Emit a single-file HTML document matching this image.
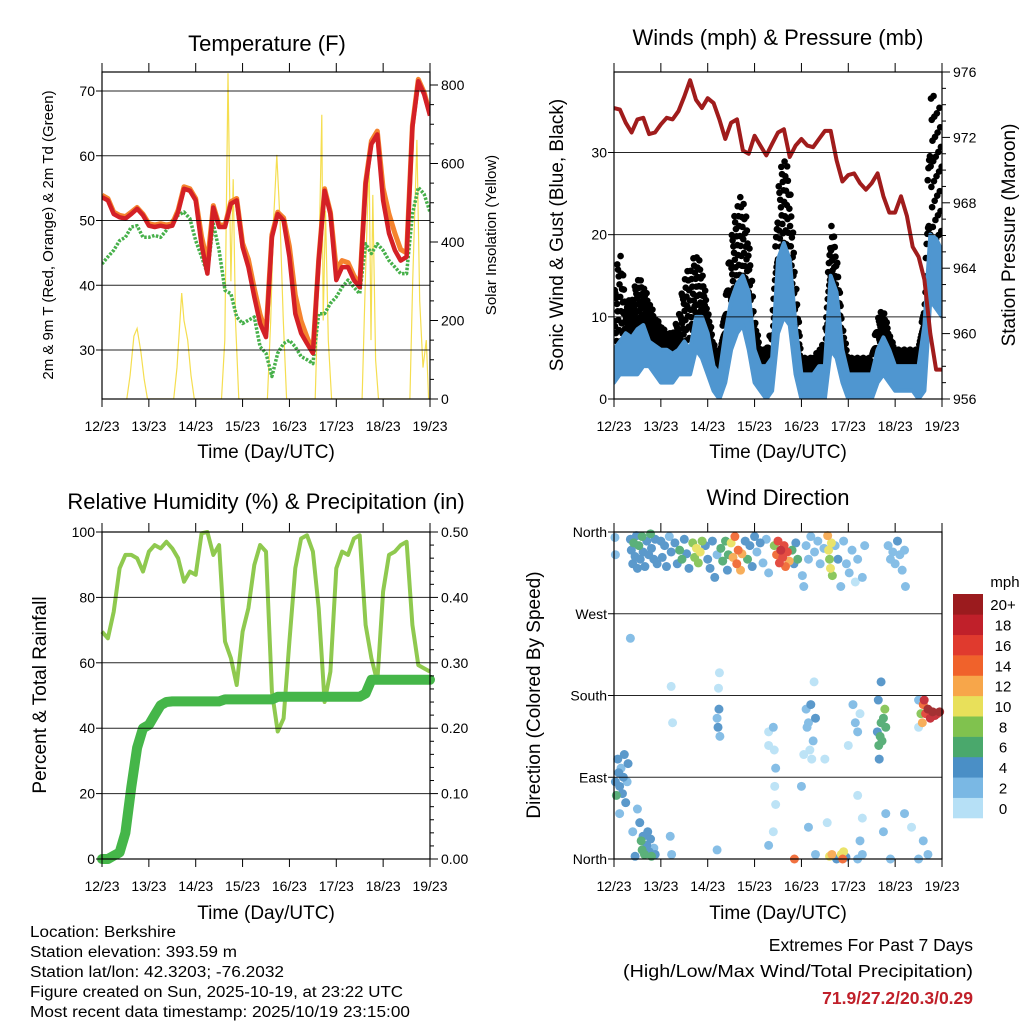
<!DOCTYPE html>
<html><head><meta charset="utf-8"><style>
body{margin:0;background:#fff}
svg{display:block;font-family:"Liberation Sans",sans-serif}
</style></head><body>
<svg id="c" width="1024" height="1024" viewBox="0 0 1024 1024" xmlns="http://www.w3.org/2000/svg">
<rect width="1024" height="1024" fill="#fff"/>
<g font-size="22" text-anchor="middle" fill="#000">
<text x="267" y="51">Temperature (F)</text>
<text x="778" y="45">Winds (mph) &amp; Pressure (mb)</text>
<text x="266" y="509">Relative Humidity (%) &amp; Precipitation (in)</text>
<text x="778" y="505">Wind Direction</text>
</g>
<g font-size="19" text-anchor="middle">
<text x="266" y="458">Time (Day/UTC)</text>
<text x="778" y="458">Time (Day/UTC)</text>
<text x="266" y="919">Time (Day/UTC)</text>
<text x="778" y="919">Time (Day/UTC)</text>
<text transform="translate(53,235) rotate(-90)" font-size="15">2m &amp; 9m T (Red, Orange) &amp; 2m Td (Green)</text>
<text transform="translate(496,235) rotate(-90)" font-size="15">Solar Insolation (Yellow)</text>
<text transform="translate(563,235) rotate(-90)">Sonic Wind &amp; Gust (Blue, Black)</text>
<text transform="translate(1015,235) rotate(-90)">Station Pressure (Maroon)</text>
<text transform="translate(46,695) rotate(-90)">Percent &amp; Total Rainfall</text>
<text transform="translate(540,695) rotate(-90)">Direction (Colored By Speed)</text>
</g>
<g font-size="15.5">
<text x="30" y="937" textLength="146" lengthAdjust="spacingAndGlyphs">Location: Berkshire</text>
<text x="30" y="957" textLength="207" lengthAdjust="spacingAndGlyphs">Station elevation: 393.59 m</text>
<text x="30" y="977" textLength="254" lengthAdjust="spacingAndGlyphs">Station lat/lon: 42.3203; -76.2032</text>
<text x="30" y="997" textLength="373" lengthAdjust="spacingAndGlyphs">Figure created on Sun, 2025-10-19, at 23:22 UTC</text>
<text x="30" y="1017" textLength="380" lengthAdjust="spacingAndGlyphs">Most recent data timestamp: 2025/10/19 23:15:00</text>
</g>
<g font-size="17.5" text-anchor="end">
<text x="973" y="951">Extremes For Past 7 Days</text>
<text x="973" y="977" textLength="350" lengthAdjust="spacingAndGlyphs">(High/Low/Max Wind/Total Precipitation)</text>
<text x="973" y="1004" fill="#c0202a" font-weight="bold">71.9/27.2/20.3/0.29</text>
</g>
<g id="layer"></g>
</svg>
<script>
// ---------- data (3-hourly, day offsets from 12/23) ----------
const dayLabels=["12/23","13/23","14/23","15/23","16/23","17/23","18/23","19/23"];
const tempRed=[53.6,53.1,51,50.5,50.3,51,51.8,50.8,49.2,49,49.2,49,49.2,51.3,54.9,54.6,53.1,46.2,41.8,52,49,49,52.6,53.1,45.9,42.8,38.2,34.1,32,47.4,51,50,44.4,35.6,32.6,31,29.5,43.8,54.6,51,40.8,42.8,42.8,40.8,39.7,55.6,61.8,63.3,53.1,48,45.4,43.8,44.4,64.4,71.5,69.5,66.2];
const tempOrange=[53.9,53.4,51.3,50.8,50.6,51.3,52,51,49.5,49.3,49.5,49.3,49.5,51.6,55.2,54.9,53.4,47.5,43.5,52.3,49.3,49.3,52.9,53.4,46.5,44,39.5,35.5,32.6,47.8,51.3,50.4,46,38.5,34.5,32,29.8,44,54.9,51.3,42.5,43.8,43.5,41.5,40,55.9,62.3,63.8,55,51,48,45.5,45,64.7,71.8,69.8,66.5];
const tempDew=[43.3,44.4,45.4,46.9,47.4,49,49.2,47.4,47.4,47.7,47.4,48.5,50,50.8,51.3,50.3,46.9,44.4,41.8,49.5,45.4,39.2,38.7,35.1,34.1,34.6,35.1,30.5,29.5,25.9,29.5,31,31.5,30.5,29,28.5,27.9,35.6,35.6,37.2,38.2,39.7,40.8,39.7,38.7,46.4,44.9,46.4,45.4,43.8,42.8,41.8,41.8,51,55.1,54.1,51.3];
const solarT=[0.53,0.6,0.68,0.75,0.83,0.9,0.97, 1.53,1.6,1.7,1.75,1.83,1.9,1.97, 2.55,2.62,2.69,2.75,2.8,2.85,2.92, 3.53,3.6,3.66,3.73,3.8,3.87,3.94, 4.55,4.62,4.69,4.72,4.77,4.83,4.9, 5.55,5.62,5.7,5.74,5.78,5.84,5.9, 6.57,6.63,6.72,6.78,6.85,6.92,6.97];
const solarV=[0,60,160,180,120,50,0, 0,80,270,200,150,60,0, 0,150,830,300,560,200,0, 0,200,450,622,450,200,0, 0,300,724,200,480,150,0, 0,300,617,150,520,100,0, 0,300,660,250,80,150,0];
const windHi=[6,7,8,7.5,8.5,9,7,6.5,6,6,5.5,6,7,6,10,10,8,4,3,8,12,14,15,13,6,4,4,5,17,19,17,9,3,3,3,4,4,15,13,6,3,3,3,3,3,6,7.5,6,4,4,4,4,4,9,20,19.5,18];
const windLo=[2,3,3,3,3,4,4,3,2,2,2,3,3,3,6,5,3,1,0,2,6,8,9,6,2,1,0,1,8,10,9,3,0,0,0,0,0,6,5,2,0,0,0,0,0,2,3,2,1,1,1,1,0,1,12,11,10];
const gustHi=[13,19,12,12,15,14,12,10,9,8,8,10,15,16,18,16,11,7,5,12,20,24,25,20,10,6,6,9,26,30,27,15,5,5,5,6,7,22,18,9,5,5,5,5,5,10,11,8,6,6,6,6,6,12,38,36,35];
const pressure=[973.8,973.7,972.9,972.3,973.1,973.2,972.2,972.3,972.8,973.2,973.1,973.6,974.5,975.5,974.3,973.8,974.4,974.1,973.1,971.9,972.9,973.1,971.2,971,972.1,971.5,970.9,971.6,972.3,972.5,970.8,971.5,971.9,971.5,971.4,971.9,972.4,972.4,970.6,969.3,969.7,969.8,969.2,968.8,969.2,969.8,968.4,967.4,967.4,968.4,967.2,965.3,964.7,963.3,960,957.8,957.8];
const rh=[69.5,67.5,75.6,88.9,93,93,92,87.9,94,96,95,97,95,92,84.8,87.9,86.9,99.6,100,93,96,66.5,61.4,53.2,69.5,76.7,89.9,96,94,51.2,39,43,66.5,88.9,98,99,94,76.7,48,57.3,88.9,94,93,98,99,71.6,61.4,54.2,81.8,93,94,96,97,71.6,59.3,58.3,57.3];
const precip=[0,0,0.005,0.01,0.04,0.11,0.17,0.2,0.205,0.22,0.235,0.24,0.241,0.241,0.241,0.241,0.241,0.241,0.241,0.241,0.241,0.244,0.244,0.244,0.244,0.244,0.244,0.244,0.244,0.244,0.248,0.248,0.248,0.248,0.248,0.248,0.248,0.248,0.248,0.248,0.248,0.248,0.248,0.248,0.248,0.253,0.274,0.274,0.274,0.274,0.274,0.274,0.274,0.274,0.274,0.274,0.274];
const dirPts=[[0.02,354,3],[0.03,335,3],[0.35,352,4],[0.37,340,4],[0.4,325,4],[0.42,348,6],[0.45,333,5],[0.48,356,4],[0.5,320,4],[0.53,345,6],[0.56,330,5],[0.6,355,6],[0.62,338,4],[0.66,322,4],[0.7,350,5],[0.74,335,4],[0.78,358,6],[0.8,342,4],[0.85,330,5],[0.88,352,4],[0.92,325,4],
[1.0,350,4],[1.03,332,5],[1.08,345,4],[1.12,322,4],[1.18,355,3],[1.22,338,4],[1.3,348,4],[1.35,325,5],[1.4,340,6],[1.45,330,6],[1.5,352,4],[1.55,336,4],[1.6,320,5],
[1.68,348,8],[1.72,332,9],[1.76,342,10],[1.8,326,8],[1.84,338,10],[1.88,350,8],
[1.95,345,4],[2.0,330,5],[2.05,320,4],[2.1,350,4],[2.15,310,4],[2.2,335,3],
[2.28,342,6],[2.32,328,7],[2.38,350,6],[2.42,318,4],[2.44,335,7],
[2.5,348,11],[2.54,332,13],[2.58,355,14],[2.62,325,15],[2.65,340,14],[2.7,318,13],[2.73,336,12],
[2.8,350,5],[2.85,330,6],[2.9,345,4],[2.95,322,5],[3.0,355,4],[3.05,338,3],[3.12,348,4],[3.18,326,3],[3.25,352,3],[3.3,315,2],
[3.42,345,8],[3.47,335,15],[3.5,350,17],[3.53,326,16],[3.56,340,18],[3.6,332,17],[3.63,345,16],[3.66,322,15],[3.7,338,17],[3.74,328,12],
[3.8,340,6],[3.84,325,5],[3.88,348,4],[3.92,330,6],
[4.02,312,3],[4.05,300,2],[4.1,345,2],[4.15,330,3],[4.2,355,2],[4.28,338,3],[4.35,350,2],[4.4,325,2],[4.48,342,3],
[4.56,356,12],[4.58,340,10],[4.6,330,9],[4.62,320,10],[4.64,348,11],[4.66,312,8],
[4.72,345,3],[4.78,330,4],[4.84,300,2],[4.9,350,3],[4.96,325,2],[5.02,315,2],[5.08,340,2],[5.15,305,1],[5.2,330,2],[5.3,310,2],[5.35,345,2],
[5.85,345,3],[5.9,330,2],[5.95,338,3],[6.0,325,2],[6.05,350,4],[6.1,335,3],[6.15,318,2],[6.2,340,2],[6.22,300,2],
[0.08,110,4],[0.1,95,4],[0.12,80,4],[0.15,100,3],[0.18,72,4],[0.2,90,5],[0.22,115,4],[0.25,62,4],[0.28,85,3],[0.3,105,4],[0.05,70,6],[0.03,85,4],[0.12,50,2],
[0.5,55,3],[0.55,40,4],[0.58,20,6],[0.6,10,6],[0.62,25,4],[0.65,5,6],[0.7,15,5],[0.72,30,4],[0.75,8,5],[0.78,22,4],[0.8,3,6],[0.85,12,3],[0.88,5,4],[0.4,30,3],[0.45,3,4],
[1.2,25,2],[1.23,5,2],[1.25,150,1],[1.22,190,1],[0.35,243,2],
[2.2,155,3],[2.22,145,4],[2.24,165,4],[2.26,135,3],[2.23,188,1],[2.25,205,1],[2.2,10,2],
[3.4,145,2],[3.42,120,1],[3.45,100,2],[3.43,80,1],[3.45,60,1],[3.4,30,1],[3.3,140,1],[3.3,125,1],[3.3,15,3],
[4.1,165,2],[4.12,145,2],[4.15,150,3],[4.18,120,1],[4.2,170,4],[4.25,130,3],[4.3,155,4],[4.22,110,1],[4.0,80,2],[4.05,115,1],[4.27,195,1],[4.15,35,2],[4.3,5,3],
[4.65,5,12],[4.6,3,10],[4.55,40,1],[4.5,110,1],[4.75,0,4],
[5.1,170,2],[5.15,150,3],[5.2,140,2],[5.25,160,1],[5.0,125,1],[5.2,70,1],[5.3,45,1],[5.25,20,2],[5.3,5,2],
[5.62,140,4],[5.65,125,6],[5.68,135,6],[5.7,150,7],[5.72,130,6],[5.75,155,7],[5.78,165,8],[5.8,145,6],[5.64,175,4],[5.66,110,4],[5.7,195,4],[5.8,50,2],[5.75,30,2],
[6.5,175,2],[6.5,145,1],[6.55,160,9],[6.58,150,12],[6.6,170,14],[6.65,160,16],[6.7,165,20],[6.75,155,18],[6.8,162,20],[6.85,158,19],[6.9,160,17],[6.95,162,20],[6.62,175,18],[6.6,20,2],[6.7,5,2],
[3.85,0,14],[4.85,5,10],[4.88,0,14],[4.9,8,10],[5.2,0,2],[5.9,0,3],[6.5,0,2],[6.2,50,3],[6.35,35,1],[4.95,2,4]];
const speedColors=["#b6e0f6","#7ab8e4","#4a8fc6","#4aa86c","#80c24e","#e8e05a","#f7a64a","#f0622b","#e03a2e","#c0202a","#9b1b1e"];
const speedLabels=["0","2","4","6","8","10","12","14","16","18","20+"];

// ---------- helpers ----------
const NS="http://www.w3.org/2000/svg";
const layer=document.getElementById('layer');
function mk(tag,attrs,parent){const e=document.createElementNS(NS,tag);for(const k in attrs)e.setAttribute(k,attrs[k]);(parent||layer).appendChild(e);return e;}
function lin(d0,d1,r0,r1){return v=>r0+(v-d0)/(d1-d0)*(r1-r0);}
const tIdx=i=>i/8;

function frame(P){
  const g=mk('g',{});
  
  
  for(let d=0;d<=7;d++){
    const x=P.x(d);
    mk('line',{x1:x,y1:P.top-9,x2:x,y2:P.top,stroke:'#000','stroke-width':1},g);
    mk('line',{x1:x,y1:P.bot,x2:x,y2:P.bot+8,stroke:'#000','stroke-width':1},g);
    const t=mk('text',{x:x,y:P.bot+32,'font-size':14,'text-anchor':'middle'},g);
    t.textContent=dayLabels[d];
    
    
  }
  P.lt.forEach((v,i)=>{
    const y=P.yl(v);
    mk('line',{x1:P.left,y1:y,x2:P.right,y2:y,stroke:'#000','stroke-width':1,opacity:0.85},g);
    mk('line',{x1:P.left-6,y1:y,x2:P.left,y2:y,stroke:'#000'},g);
    const t=mk('text',{x:P.left-7,y:y+5,'font-size':14,'text-anchor':'end'},g);
    t.textContent=P.ll[i];
    
    
  });
  if(P.rt){P.rt.forEach((v,i)=>{
    const y=P.yr(v);
    mk('line',{x1:P.right,y1:y,x2:P.right+8,y2:y,stroke:'#000'},g);
    const t=mk('text',{x:P.right+11,y:y+5,'font-size':14},g);
    t.textContent=P.rl[i];
    
    
  });
  if(P.rminor){P.rminor.forEach(v=>{const y=P.yr(v);mk('line',{x1:P.right,y1:y,x2:P.right+4,y2:y,stroke:'#000'},g);});}
  }
  mk('rect',{x:P.left,y:P.top,width:P.right-P.left,height:P.bot-P.top,fill:'none',stroke:'#000','stroke-width':1.2},g);
}
function pathOf(xs,ys){return xs.map((x,i)=>(i?'L':'M')+x.toFixed(1)+','+ys[i].toFixed(1)).join('');}

// ---------- Panel 1: temperature ----------
const P1={name:'temperature',left:102,right:430,top:72,bot:399};
P1.x=lin(0,7,102,430);P1.yl=lin(30,70,350,91);P1.yr=lin(0,800,399,85);
P1.lt=[30,40,50,60,70];P1.ll=["30","40","50","60","70"];
P1.rt=[0,200,400,600,800];P1.rl=["0","200","400","600","800"];
P1.rminor=[50,100,150,250,300,350,450,500,550,650,700,750];
{
  const cp=mk('clipPath',{id:'clip1'});mk('rect',{x:102,y:72,width:328,height:327},cp);
  const cg=mk('g',{'clip-path':'url(#clip1)'});
  let e=mk('path',{d:pathOf(solarT.map(P1.x),solarV.map(P1.yr)),fill:'none',stroke:'#f5de50','stroke-width':1.2},cg);
  
  const xs=tempRed.map((v,i)=>P1.x(tIdx(i)));
  e=mk('path',{d:pathOf(xs,tempDew.map(P1.yl)),fill:'none',stroke:'#46b04a','stroke-width':3.5,'stroke-dasharray':'2.5 1.5','stroke-linejoin':'round'},cg);
  
  e=mk('path',{d:pathOf(xs,tempOrange.map(P1.yl)),fill:'none',stroke:'#f5832e','stroke-width':5,'stroke-linejoin':'round'},cg);
  
  e=mk('path',{d:pathOf(xs,tempRed.map(P1.yl)),fill:'none',stroke:'#d42026','stroke-width':4.5,'stroke-linejoin':'round'},cg);
  
  frame(P1);
}

// ---------- Panel 2: winds ----------
const P2={name:'winds',left:614,right:942,top:72,bot:399};
P2.x=lin(0,7,614,942);P2.yl=lin(0,30,399,152.5);P2.yr=lin(956,976,399,72);
P2.lt=[0,10,20,30];P2.ll=["0","10","20","30"];
P2.rt=[956,960,964,968,972,976];P2.rl=["956","960","964","968","972","976"];
P2.rminor=[957,958,959,961,962,963,965,966,967,969,970,971,973,974,975];
{
  const cp=mk('clipPath',{id:'clip2'});mk('rect',{x:614,y:72,width:328,height:327},cp);
  const cg=mk('g',{'clip-path':'url(#clip2)'});
  const gg=mk('g',{fill:'#000'},cg);
  
  const n=gustHi.length;
  for(let i=0;i<n;i++){
    const gNext=i<n-1?gustHi[i+1]:gustHi[i];
    const hNext=i<n-1?windHi[i+1]:windHi[i];
    for(let k=0;k<16;k++){
      const f=k/16;
      const dt=tIdx(i)+f/8;
      if(dt>7)continue;
      const gTop=gustHi[i]+(gNext-gustHi[i])*f;
      const hB=windHi[i]+(hNext-windHi[i])*f;
      const q=((k*7)%16)/15;
      const v=hB+(gTop-hB)*q;
      const c=mk('circle',{cx:P2.x(dt),cy:P2.yl(v),r:3.3},gg);
      
      
    }
  }
  const xs=windHi.map((v,i)=>P2.x(tIdx(i)));
  const poly=xs.map((x,i)=>x+','+P2.yl(windHi[i])).concat(xs.slice().reverse().map((x,j)=>{const i=xs.length-1-j;return x+','+P2.yl(windLo[i]);})).join(' ');
  let e=mk('polygon',{points:poly,fill:'#4f96d0',stroke:'#4f96d0','stroke-width':4,'stroke-linejoin':'round'},cg);
  
  e=mk('path',{d:pathOf(xs,pressure.map(P2.yr)),fill:'none',stroke:'#a01c1c','stroke-width':4,'stroke-linejoin':'round'},cg);
  
  frame(P2);
}

// ---------- Panel 3: RH & precip ----------
const P3={name:'humidity',left:102,right:430,top:532,bot:859};
P3.x=lin(0,7,102,430);P3.yl=lin(0,100,859,532);P3.yr=lin(0,0.5,859,532);
P3.lt=[0,20,40,60,80,100];P3.ll=["0","20","40","60","80","100"];
P3.rt=[0,0.1,0.2,0.3,0.4,0.5];P3.rl=["0.00","0.10","0.20","0.30","0.40","0.50"];
P3.rminor=[0.02,0.04,0.06,0.08,0.12,0.14,0.16,0.18,0.22,0.24,0.26,0.28,0.32,0.34,0.36,0.38,0.42,0.44,0.46,0.48];
{
  const xs=rh.map((v,i)=>P3.x(tIdx(i)));
  let e=mk('path',{d:pathOf(xs,rh.map(P3.yl)),fill:'none',stroke:'#8fc94f','stroke-width':4,'stroke-linejoin':'round'});
  
  e=mk('path',{d:pathOf(xs,precip.map(P3.yr)),fill:'none',stroke:'#45b649','stroke-width':10,'stroke-linejoin':'round','stroke-linecap':'round'});
  
  frame(P3);
}

// ---------- Panel 4: wind direction ----------
const P4={name:'direction',left:614,right:942,top:532,bot:859};
P4.x=lin(0,7,614,942);P4.yl=lin(0,360,859,532);
P4.lt=[0,90,180,270,360];P4.ll=["North","East","South","West","North"];
{
  const gg=mk('g',{opacity:0.9});
  
  dirPts.slice().sort((a,b)=>a[2]-b[2]).forEach(p=>{
    const ci=Math.min(10,Math.floor(p[2]/2));
    const c=mk('circle',{cx:P4.x(p[0]),cy:P4.yl(p[1]),r:4.5,fill:speedColors[ci]},gg);
    
    
  });
  frame(P4);
  const cb=mk('g',{});
  
  const h=224/11;
  speedColors.forEach((col,i)=>{
    const y=818-(i+1)*h;
    const r=mk('rect',{x:953,y:y,width:30,height:h+0.3,fill:col},cb);
    
    const t=mk('text',{x:1003,y:y+h/2+6,'font-size':15,'text-anchor':'middle'},cb);
    t.textContent=speedLabels[i];
    
  });
  const t=mk('text',{x:1005,y:587,'font-size':15,'text-anchor':'middle'},cb);
  t.textContent='mph';
  
}
</script>
</body></html>
